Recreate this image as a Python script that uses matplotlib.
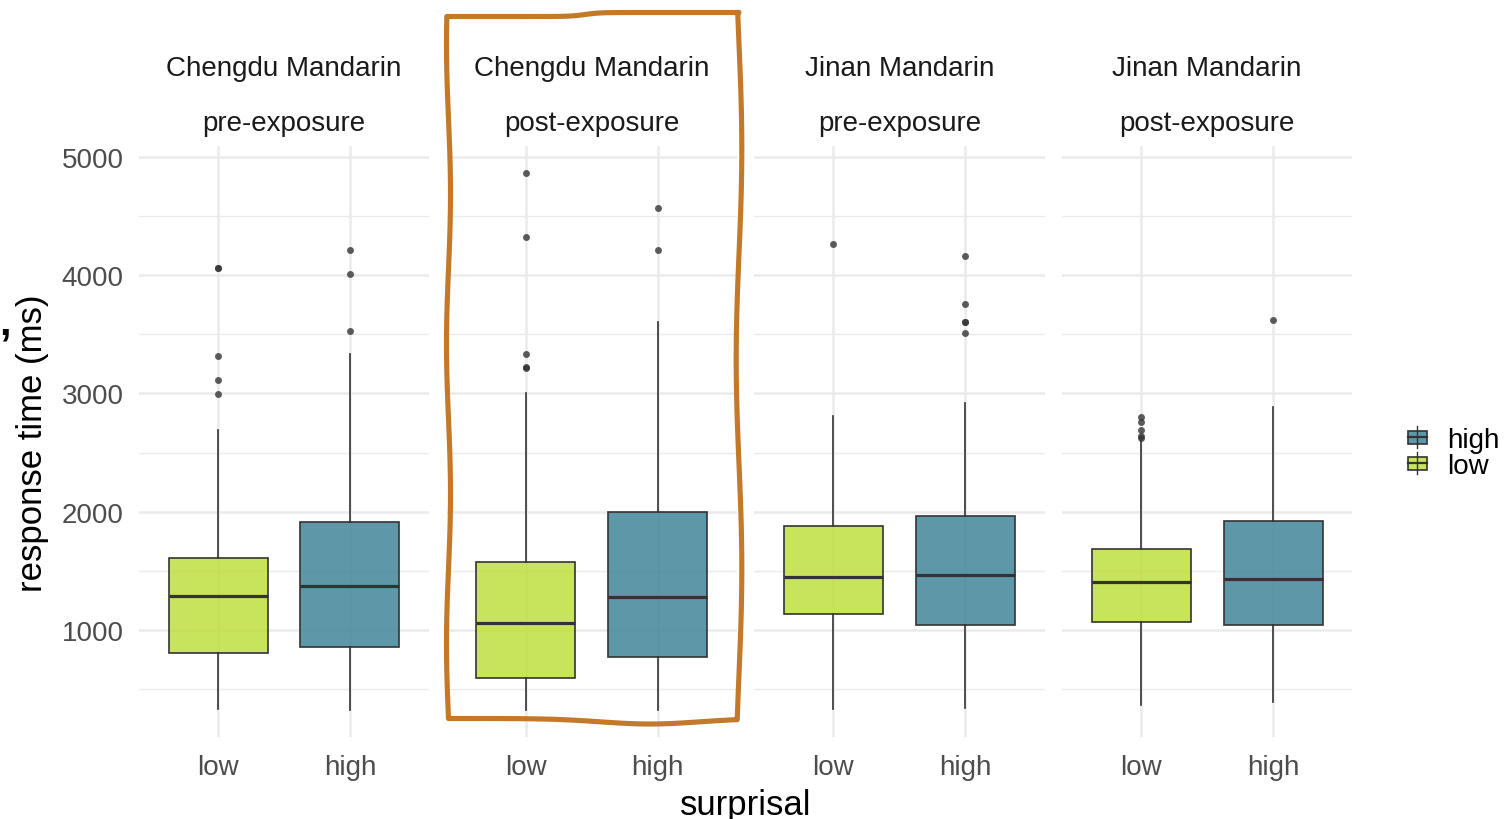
import numpy as np
import matplotlib
matplotlib.use("Agg")
import matplotlib.pyplot as plt
from matplotlib.patches import Rectangle

plt.rcParams['font.family'] = ['Liberation Sans', 'DejaVu Sans']

# ---------------- data ----------------
dialects = ["Chengdu Mandarin", "Chengdu Mandarin", "Jinan Mandarin", "Jinan Mandarin"]
phases = ["pre-exposure", "post-exposure", "pre-exposure", "post-exposure"]
surprisal_levels = ["low", "high"]
legend_labels = ["high", "low"]
y_ticks = [1000, 2000, 3000, 4000, 5000]
y_minor = [500, 1500, 2500, 3500, 4500]

# [whisker low, Q1, median, Q3, whisker high] per facet
low_stats = [
    [332, 805, 1285, 1606, 2691],
    [323, 595, 1060, 1575, 3004],
    [329, 1135, 1451, 1882, 2807],
    [366, 1070, 1406, 1685, 2596],
]
high_stats = [
    [326, 859, 1372, 1916, 3337],
    [323, 772, 1280, 1996, 3603],
    [338, 1045, 1462, 1961, 2920],
    [388, 1045, 1431, 1922, 2883],
]
low_outliers = [
    [4058, 4065, 3320, 3114, 2996],
    [4865, 4320, 3337, 3213, 3220],
    [4264],
    [2798, 2762, 2689, 2638, 2621],
]
high_outliers = [
    [4211, 4013, 3526],
    [4568, 4215],
    [4160, 3757, 3602, 3608, 3515],
    [3619],
]

col_low = (0.749, 0.871, 0.247)
col_high = (0.255, 0.522, 0.600)
box_alpha = 0.85
edge = '#333333'
grid_c = '#EBEBEB'

W, H = 1506, 820
fig = plt.figure(figsize=(W / 100, H / 100), dpi=100)

ax_top, ax_bot = 146.5, 738.0
unit = 132.0
first_low = 218.0
spacing = 307.7

def stat_dict(s, fl):
    return dict(whislo=s[0], q1=s[1], med=s[2], q3=s[3], whishi=s[4], fliers=fl)

for i in range(4):
    left = first_low + i * spacing - 0.6 * unit
    ax = fig.add_axes([left / W, (H - ax_bot) / H, 2.2 * unit / W, (ax_bot - ax_top) / H])
    stats = [stat_dict(low_stats[i], low_outliers[i]), stat_dict(high_stats[i], high_outliers[i])]
    res = ax.bxp(stats, positions=[1, 2], widths=0.75, patch_artist=True, showcaps=False,
                 manage_ticks=False,
                 boxprops=dict(edgecolor=edge, linewidth=1.2),
                 whiskerprops=dict(color=edge, linewidth=1.2),
                 medianprops=dict(color=edge, linewidth=2.3),
                 flierprops=dict(marker='o', markerfacecolor='#333333', markeredgecolor='none',
                                 markersize=5, alpha=0.8))
    for b, c in zip(res['boxes'], [col_low, col_high]):
        b.set_facecolor((*c, box_alpha))

    ax.set_xlim(0.4, 2.6)
    ax.set_ylim(95, 5097)
    for s in ax.spines.values():
        s.set_visible(False)
    ax.set_yticks(y_ticks)
    ax.set_yticks(y_minor, minor=True)
    ax.set_xticks([1, 2])
    ax.set_xticklabels(surprisal_levels)
    ax.grid(which='major', color=grid_c, lw=1.8)
    ax.grid(which='minor', axis='y', color=grid_c, lw=1.0)
    ax.set_axisbelow(True)
    ax.tick_params(which='both', length=0)
    ax.tick_params(axis='x', labelsize=20, labelcolor='#4D4D4D', pad=12)
    ax.tick_params(axis='y', labelsize=20, labelcolor='#4D4D4D', pad=11)
    if i > 0:
        ax.tick_params(axis='y', labelleft=False)

    cx = first_low + i * spacing + 0.5 * unit
    fig.text(cx / W, 1 - 69 / H, dialects[i], ha='center', va='center', fontsize=20, color='#1A1A1A')
    fig.text(cx / W, 1 - 124 / H, phases[i], ha='center', va='center', fontsize=20, color='#1A1A1A')

fig.text(33 / W, 1 - 443 / H, "response time (ms)", rotation=90, ha='center', va='center',
         fontsize=25, color='black')
fig.text(746 / W, 1 - 806 / H, "surprisal", ha='center', va='center', fontsize=25, color='black')
fig.text(-1 / W, 1 - 324 / H, ",", ha='left', va='center', fontsize=30, fontweight='bold', color='black')

# overlay in pixel coordinates for legend & highlight frame
ov = fig.add_axes([0, 0, 1, 1], zorder=10)
ov.set_xlim(0, W)
ov.set_ylim(H, 0)
ov.axis('off')

# legend
key_y = {"high": 438.0, "low": 464.0}
for lab, c in zip(legend_labels, [col_high, col_low]):
    yc = key_y[lab]
    ov.plot([1417.5, 1417.5], [yc - 11, yc + 11], color=edge, lw=1.0)
    ov.add_patch(Rectangle((1408, yc - 6.5), 19, 13, facecolor=(*c, box_alpha), edgecolor=edge, lw=1.2))
    ov.plot([1408, 1427], [yc, yc], color=edge, lw=1.6)
    ov.text(1447, yc + 3, lab, ha='left', va='center', fontsize=20, color='black')

# hand-drawn highlight frame
xs = np.linspace(449, 739, 120)
top_y = 15.5 - 2.0 * np.tanh((xs - 585) / 15.0)
ys = np.linspace(top_y[-1], 720, 200)
right_x = 739.0 + 2.8 * np.cos(2 * np.pi * (ys - 150) / 420.0)
xb = np.linspace(right_x[-1], 449, 120)
bot_y = 719.5 + 5.5 * np.exp(-((xb - 650) / 70.0) ** 2)
yl = np.linspace(bot_y[-1], top_y[0], 200)
left_x = 448.5 + 2.0 * np.sin(2 * np.pi * (yl - 720) / 300.0)
px = np.concatenate([xs, right_x, xb, left_x])
py = np.concatenate([top_y, ys, bot_y, yl])
ov.fill(px, py, facecolor='none', edgecolor='#C4782A', lw=3.7, joinstyle='round')

fig.savefig("out.png", dpi=100, facecolor='white')
